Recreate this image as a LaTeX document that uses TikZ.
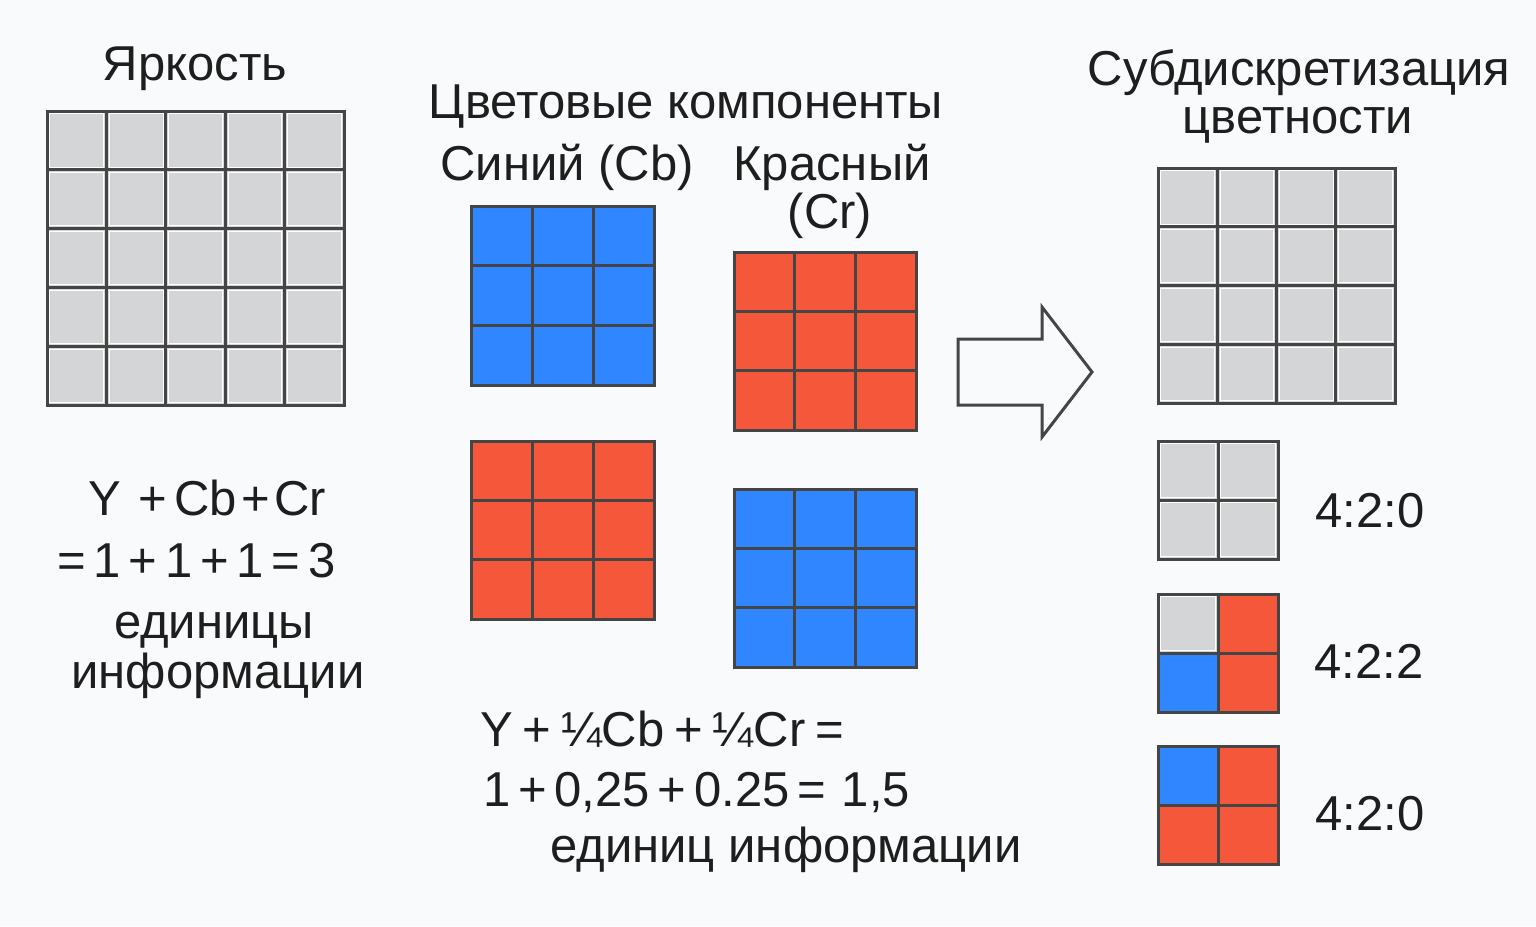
\documentclass[tikz,border=0pt]{standalone}
\usepackage{fontspec}
\setmainfont{Liberation Sans}
\definecolor{bg}{HTML}{F9FAFC}
\definecolor{cgray}{HTML}{D4D5D7}
\definecolor{cblue}{HTML}{2F86FF}
\definecolor{cred}{HTML}{F5573B}
\definecolor{cline}{HTML}{454545}
\definecolor{ink}{HTML}{1E1E1E}
\tikzset{
  gl/.style={draw=cline, line width=3pt, line cap=rect},
  hl/.style={draw=white, line width=0.9pt},
  lbl/.style={inner sep=0pt, anchor=base, text=ink, font=\fontsize{49}{54}\selectfont},
  lblw/.style={lbl, anchor=base west},
  bigarrow/.style={draw=cline, line width=3pt, fill=bg, line join=miter}
}
\newcommand\tightsp{\spaceskip=0.16em\relax}
\newcommand\ugrid[6]{%
  \fill[#6] (#1,#2) rectangle (#3,#4);
  \pgfmathtruncatemacro\gnm{#5-1}%
  \foreach \k in {1,...,\gnm}{
    \draw[gl] ({#1+(#3-#1)*\k/#5},#2) -- ({#1+(#3-#1)*\k/#5},#4);
    \draw[gl] (#1,{#2+(#4-#2)*\k/#5}) -- (#3,{#2+(#4-#2)*\k/#5});
  }
  \draw[gl] (#1,#2) rectangle (#3,#4);
}
\newcommand\hlgrid[5]{%
  \pgfmathtruncatemacro\gnn{#5-1}%
  \foreach \i in {0,...,\gnn}{
    \foreach \j in {0,...,\gnn}{
      \draw[hl] ({#1+(#3-#1)*\i/#5+2.8},{#2+(#4-#2)*\j/#5+2.8}) rectangle ({#1+(#3-#1)*(\i+1)/#5-2.8},{#2+(#4-#2)*(\j+1)/#5-2.8});
    }
  }
}
\begin{document}
\begin{tikzpicture}[x=1pt,y=-1pt]
\fill[bg] (0,0) rectangle (1536,926);
\useasboundingbox (0,0) rectangle (1536,926);

% luminance grid
\ugrid{47}{111}{344}{405}{5}{cgray}
\hlgrid{47}{111}{344}{405}{5}
% chroma grids
\ugrid{471}{206}{654}{385}{3}{cblue}
\ugrid{734}{252}{916}{430}{3}{cred}
\ugrid{471}{441}{654}{619}{3}{cred}
\ugrid{734}{489}{916}{667}{3}{cblue}
% subsampled grid
\ugrid{1158}{168}{1395}{403}{4}{cgray}
\hlgrid{1158}{168}{1395}{403}{4}
% small grids
\ugrid{1158}{441}{1278}{559}{2}{cgray}
\hlgrid{1158}{441}{1278}{559}{2}
\fill[cgray] (1158,594) rectangle (1218,653);
\fill[cred] (1218,594) rectangle (1278,653);
\fill[cblue] (1158,653) rectangle (1218,712);
\fill[cred] (1218,653) rectangle (1278,712);
\draw[hl] (1160.8,596.8) rectangle (1215.2,650.2);
\draw[gl] (1218,594) -- (1218,712);
\draw[gl] (1158,653) -- (1278,653);
\draw[gl] (1158,594) rectangle (1278,712);
\fill[cred] (1158,746) rectangle (1278,864);
\fill[cblue] (1158,746) rectangle (1218,805);
\draw[gl] (1218,746) -- (1218,864);
\draw[gl] (1158,805) -- (1278,805);
\draw[gl] (1158,746) rectangle (1278,864);

% big arrow
\draw[bigarrow] (958,339) -- (1042,339) -- (1042,307) -- (1092,372) -- (1042,437) -- (1042,405) -- (958,405) -- cycle;

% labels
\node[lbl] (tY) at (195,80) {Яркость};
\node[lbl] (tComp) at (686,118) {Цветовые компоненты};
\node[lbl] (tCb) at (567,180) {Синий (Cb)};
\node[lbl] (tCr1) at (832,180) {Красный};
\node[lbl] (tCr2) at (830,228) {(Cr)};
\node[lbl] (tSub1) at (1299,85) {Субдискретизация};
\node[lbl] (tSub2) at (1298,133) {цветности};

\node[lblw] (f1) at (88,515) {Y\hspace{0.36em}+\hspace{0.14em}Cb\hspace{0.1em}+\hspace{0.08em}Cr};
\node[lblw] (f2) at (57,577) {\tightsp = 1 + 1 + 1 = 3};
\node[lbl] (f3) at (214,638) {единицы};
\node[lbl] (f4) at (218,688) {информации};

\node[lblw] (g1) at (480,746) {\spaceskip=0.2em\relax Y + ¼Cb + ¼Cr =};
\node[lblw] (g2) at (483,806) {\tightsp 1 + 0,25 + 0.25 = \ 1,5};
\node[lbl] (g3) at (786,862) {единиц информации};

\node[lbl] (r1) at (1370,527) {4:2:0};
\node[lbl] (r2) at (1369,678) {4:2:2};
\node[lbl] (r3) at (1370,830) {4:2:0};
\end{tikzpicture}
\end{document}
